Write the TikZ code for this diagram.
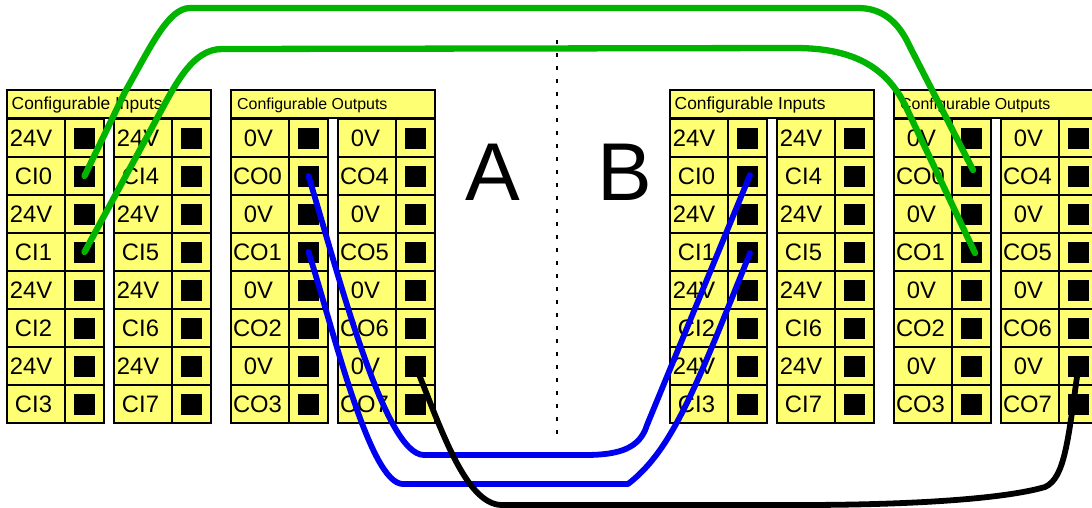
\documentclass[tikz,border=0pt]{standalone}
\usepackage{fontspec}
\setmainfont{Liberation Sans}
\definecolor{cellyellow}{HTML}{FFFF73}
\definecolor{wiregreen}{HTML}{00B400}
\definecolor{wireblue}{HTML}{0000F0}
\tikzset{
  cell/.style={draw=black,line width=1.3pt,fill=cellyellow,inner sep=0pt,outer sep=0pt,anchor=north west},
  labelcell/.style={cell,minimum width=58pt,minimum height=38pt,font=\fontsize{23.8}{25}\selectfont},
  termcell/.style={cell,minimum width=39pt,minimum height=38pt},
  headcell/.style={cell,minimum width=204pt,minimum height=28pt},
  headtext/.style={inner sep=0pt,anchor=west},
  pin/.style={fill=black,inner sep=0pt,outer sep=0pt,minimum size=21pt},
  bigletter/.style={inner sep=0pt,font=\fontsize{82}{86}\selectfont},
  wire/.style={line width=5.8pt,line cap=round,line join=round},
  greenwire/.style={wire,line width=6.3pt,wiregreen},
}
% #1 name, #2 left x, #3 header, #4 prefix, #5 supply text, #6 header size, #7 header inset, #8 supply text offset
\newcommand{\termblock}[8]{%
  \node[headcell] (#1head) at (#2,90) {};
  \node[headtext,font=\fontsize{#6}{19}\selectfont] (#1title) at (#2+#7,105) {#3};
  \foreach \c/\dx/\base in {0/0/0,1/107/4}{
    \foreach \r in {0,1,2,3,4,5,6,7}{
      \pgfmathtruncatemacro{\odd}{mod(\r,2)}
      \pgfmathtruncatemacro{\num}{\base+(\r-1)/2}
      \ifnum\odd=1 \def\txt{#4\num\kern5pt}\else\def\txt{#5\kern#8}\fi
      \node[labelcell] (#1l\c r\r) at (#2+\dx,119+38*\r) {\txt};
      \node[termcell] (#1t\c r\r) at (#2+\dx+58,119+38*\r) {};
      \node[pin] (#1p\c r\r) at (#1t\c r\r.center) {};
    }
  }%
}
\begin{document}
\begin{tikzpicture}[x=1pt,y=-1pt]
\useasboundingbox (0,0) rectangle (1092,507);
\clip (0,0) rectangle (1092,507);
\termblock{a}{7}{Configurable Inputs}{CI}{24V}{17.4}{4.5}{10pt}
\termblock{b}{231}{Configurable Outputs}{CO}{0V}{15.9}{6}{3pt}
\termblock{c}{670}{Configurable Inputs}{CI}{24V}{17.4}{4.5}{10pt}
\termblock{d}{894}{Configurable Outputs}{CO}{0V}{15.9}{6}{3pt}
\node[bigletter] (letterA) at (492.5,172) {A};
\node[bigletter] (letterB) at (625,172) {B};
\coordinate (divtop) at (557,40);
\coordinate (divbot) at (557,436);
\draw[line width=2pt,dash pattern=on 4pt off 9pt] (divtop) -- (divbot);
% green wires
\draw[greenwire] (ap0r1.center) -- (125,92) .. controls (150,48) and (168,8) .. (190,8)
  -- (858,8) .. controls (885,8) and (900,25) .. (910,47) -- (973,170);
\draw[greenwire] (ap0r3.center) -- (155,122) .. controls (175,85) and (192,49) .. (222,49)
  -- (795,48) .. controls (850,48) and (885,65) .. (905,105) -- (975,253);
% blue wires
\draw[wire,wireblue] (bp0r1.center) .. controls (340,280) and (385,455) .. (424,455)
  -- (585,455) .. controls (620,455) and (640,448) .. (647,425) -- (750,175);
\draw[wire,wireblue] (bp0r3.center) .. controls (335,335) and (370,484) .. (403,484)
  -- (628,484) .. controls (672,450) and (695,390) .. (750,253);
% black wire
\draw[wire,black] (bp1r6.center) .. controls (440,425) and (465,505) .. (502,505)
  -- (800,505) .. controls (900,505) and (1000,500) .. (1045,487)
  .. controls (1065,478) and (1068,440) .. (dp1r6.center);
\end{tikzpicture}
\end{document}
